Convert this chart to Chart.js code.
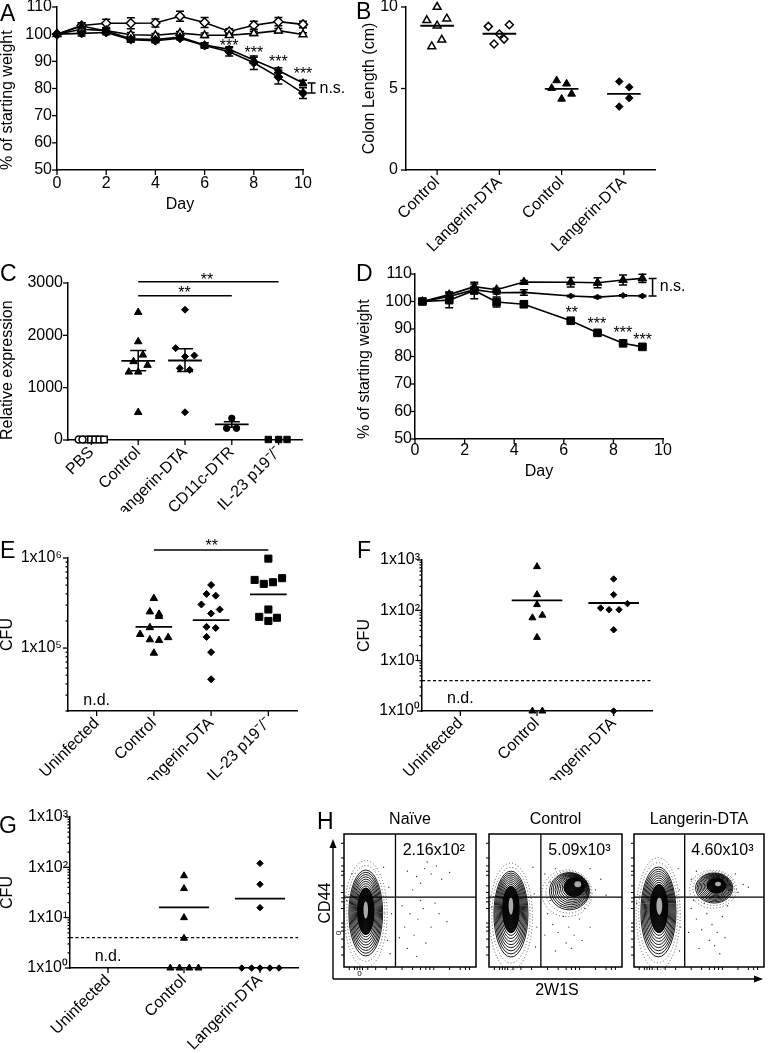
<!DOCTYPE html>
<html lang="en">
<head>
<meta charset="UTF-8">
<title>Langerin-DTA figure</title>
<script src="https://cdn.jsdelivr.net/npm/chart.js"></script>
<style>
  html, body { margin: 0; padding: 0; background: #fff; }
  #fig { position: relative; width: 768px; height: 1053px; overflow: hidden; font-family: "Liberation Sans", Arial, sans-serif; color: #000; }
  #fig canvas, #fig svg, #fig .t, #fig .letter { position: absolute; }
  .letter { font-size: 23px; line-height: 1; }
  .t { font-size: 16px; line-height: 1; white-space: nowrap; }
</style>
</head>
<body>
<div id="fig">
  <canvas id="cA" width="360" height="216" style="left:0;top:0"></canvas>
  <canvas id="cB" width="406" height="252" style="left:362px;top:0"></canvas>
  <canvas id="cC" width="360" height="250" style="left:0;top:262px"></canvas>
  <canvas id="cD" width="411" height="230" style="left:357px;top:262px"></canvas>
  <canvas id="cE" width="360" height="245" style="left:0;top:535px"></canvas>
  <canvas id="cF" width="411" height="245" style="left:357px;top:535px"></canvas>
  <canvas id="cG" width="320" height="253" style="left:0;top:800px"></canvas>
  <canvas id="cH1" width="150" height="170" style="left:330px;top:810px"></canvas>
  <canvas id="cH2" width="142" height="170" style="left:484px;top:810px"></canvas>
  <canvas id="cH3" width="139" height="170" style="left:629px;top:810px"></canvas>

  <svg width="768" height="1053" style="left:0;top:0">
    <path d="M333 979 V847" stroke="#000" stroke-width="1.4" fill="none"/>
    <path d="M333 839 L329.5 848 L336.5 848 Z" fill="#000"/>
    <path d="M333 979 H755" stroke="#000" stroke-width="1.4" fill="none"/>
    <path d="M763 979 L754 975.5 L754 982.5 Z" fill="#000"/>
  </svg>
  <div class="t" style="left:325px;top:903px;transform:translate(-50%,-50%) rotate(-90deg)">CD44</div>
  <div class="t" style="left:557px;top:990px;transform:translate(-50%,-50%)">2W1S</div>

  <div class="letter" style="left:0;top:2px">A</div>
  <div class="letter" style="left:356px;top:0">B</div>
  <div class="letter" style="left:0;top:262px">C</div>
  <div class="letter" style="left:356px;top:262px">D</div>
  <div class="letter" style="left:0;top:539px">E</div>
  <div class="letter" style="left:357px;top:539px">F</div>
  <div class="letter" style="left:-1px;top:814px">G</div>
  <div class="letter" style="left:317px;top:810px">H</div>
</div>
<script>
// ---- A: weight curves ----
const aDays = [0, 1, 2, 3, 4, 5, 6, 7, 8, 9, 10];
const aOpenDia = [100, 103.2, 104.0, 104.0, 104.1, 106.6, 104.3, 101.0, 103.3, 104.6, 103.6];
const aOpenDiaErr = [0, 1.0, 1.5, 2.0, 1.5, 1.8, 1.8, 1.0, 1.5, 1.5, 1.2];
const aOpenTri = [100, 101.8, 101.3, 99.8, 99.6, 100.4, 99.6, 99.6, 100.3, 101.3, 99.9];
const aOpenTriErr = [0, 1.0, 0.8, 0.8, 0.6, 0.6, 0.8, 0.6, 0.8, 0.8, 0.6];
const aFillTri = [100, 103.0, 101.2, 98.3, 98.0, 98.9, 96.0, 94.4, 90.5, 86.6, 82.0];
const aFillTriErr = [0, 1.2, 0.8, 1.0, 0.8, 0.6, 0.8, 1.0, 1.0, 1.0, 1.0];
const aFillDia = [100, 100.3, 100.6, 98.0, 97.6, 98.5, 95.8, 93.5, 89.5, 84.2, 78.3];
const aFillDiaErr = [0, 1.0, 0.8, 1.0, 0.8, 0.6, 1.0, 1.5, 2.5, 2.5, 2.0];
const aStarDays = [7, 8, 9, 10];
const aStarVals = [96.7, 94.1, 90.8, 86.4];
const weightTicks = [50, 60, 70, 80, 90, 100, 110];
const dayTicks = [0, 2, 4, 6, 8, 10];

// ---- B: colon length ----
const bCats = ['Control', 'Langerin-DTA', 'Control', 'Langerin-DTA'];
const bCtrlOpen = [10.0, 9.18, 8.85, 9.28, 7.99, 7.58];
const bCtrlOpenOff = [0, -0.166, 0, 0.155, 0.075, -0.086];
const bLangOpen = [8.81, 8.34, 8.91, 7.73, 8.03];
const bLangOpenOff = [-0.177, 0, 0.16, -0.086, 0.075];
const bCtrlFill = [5.49, 5.29, 5.02, 4.36, 4.67];
const bCtrlFillOff = [-0.08, 0.08, -0.16, 0, 0.16];
const bLangFill = [5.43, 5.08, 4.41, 3.89];
const bLangFillOff = [-0.075, 0.086, 0.086, -0.075];
const bMeans = [8.85, 8.36, 4.98, 4.67];
const bTicks = [0, 5, 10];

// ---- C: relative expression ----
const cCats = ['PBS', 'Control', 'Langerin-DTA', 'CD11c-DTR', 'IL-23 p19⁻/⁻'];
const cPbsCirc = [10, 10];
const cPbsCircOff = [-0.27, -0.19];
const cPbsSq = [10, 10, 10, 10, 10];
const cPbsSqOff = [-0.1, -0.01, 0.08, 0.17, 0.27];
const cCtrl = [2440, 1880, 1625, 1500, 1430, 1300, 1300, 530];
const cCtrlOff = [0, 0, 0.1, -0.1, 0.2, -0.2, 0, 0];
const cLang = [2490, 1755, 1615, 1595, 1372, 1340, 530];
const cLangOff = [0, -0.2, 0.2, 0, -0.11, 0.1, 0];
const cCd11c = [415, 223, 223];
const cCd11cOff = [0, -0.11, 0.1];
const cIl23 = [10, 10, 10];
const cIl23Off = [-0.22, 0, 0.18];
const cMeanCats = [1, 2, 3];
const cMeans = [1512, 1519, 300];
const cSemLo = [1321, 1308, 242];
const cSemHi = [1710, 1742, 351];
const cTicks = [0, 1000, 2000, 3000];

// ---- D: weight curves ----
const dDays = [0.3, 1.38, 2.39, 3.29, 4.39, 6.28, 7.36, 8.39, 9.17];
const dTri = [100, 102.5, 105.4, 104.3, 107.1, 107.0, 106.8, 107.8, 108.4];
const dTriErr = [0, 1, 1, 0.5, 0.5, 1.7, 1.8, 1.8, 1.5];
const dDia = [100, 101.8, 104.3, 103.2, 103.3, 102.0, 101.6, 102.2, 102.0];
const dDiaErr = [0, 1, 1, 0.5, 1, 0.3, 0.3, 0.3, 0.3];
const dSq = [100, 100.5, 104.0, 99.8, 99.0, 93.0, 88.6, 84.8, 83.5];
const dSqErr = [0, 2.8, 3, 1.8, 1, 0.5, 0.5, 0.5, 0.5];
const dStarDays = [6.32, 7.33, 8.38, 9.18];
const dStarVals = [96.9, 92.9, 89.7, 87.1];
const dStarText = ['**', '***', '***', '***'];

// ---- E: CFU ----
const eCats = ['Uninfected', 'Control', 'Langerin-DTA', 'IL-23 p19⁻/⁻'];
const eCtrl = [356e3, 253e3, 238e3, 225e3, 169e3, 142e3, 124e3, 122e3, 131e3, 88e3];
const eCtrlOff = [0, -0.07, 0.09, 0.09, -0.07, -0.24, -0.07, 0.09, 0.25, 0];
const eLang = [502e3, 399e3, 382e3, 305e3, 268e3, 242e3, 172e3, 167e3, 133e3, 90e3, 45e3];
const eLangOff = [0, -0.08, 0.08, -0.17, 0.15, 0, -0.08, 0.08, -0.08, 0, 0];
const eIl23 = [984e3, 571e3, 516e3, 538e3, 597e3, 268e3, 222e3, 217e3, 200e3];
const eIl23Off = [0, -0.24, -0.08, 0.08, 0.24, 0, -0.16, 0.15, 0];
const eMeanCats = [1, 2, 3];
const eMeans = [172e3, 204e3, 395e3];
const eTicks = [1e5, 1e6];
const eTickLabels = ['1x10⁵', '1x10⁶'];

// ---- F / G: CFU ----
const fgCats = ['Uninfected', 'Control', 'Langerin-DTA'];
const fCtrl = [738, 205, 130, 71, 80, 29, 1, 1];
const fCtrlOff = [0, 0, 0, -0.06, 0.07, 0, -0.06, 0.07];
const fLang = [420, 205, 136, 111, 103, 103, 41, 1];
const fLangOff = [0, 0, 0.18, -0.17, -0.06, 0.07, 0, 0];
const fMeans = [158, 140];
const gCtrl = [68, 38, 10, 3.9, 1, 1, 1, 1];
const gCtrlOff = [0, 0, 0, 0, -0.18, -0.06, 0.07, 0.19];
const gLang = [120, 46, 15.8, 1, 1, 1, 1, 1];
const gLangOff = [0, 0, 0, -0.24, -0.11, 0, 0.13, 0.25];
const gMeans = [16, 24];
const fgMeanCats = [1, 2];
const detectLimit = 4;
const fgTicks = [1, 10, 100, 1000];
const fgTickLabels = ['1x10⁰', '1x10¹', '1x10²', '1x10³'];

// ---- H: flow plots (data units 0-100 in each box) ----
const hTitles = ['Naïve', 'Control', 'Langerin-DTA'];
const hCounts = ['2.16x10²', '5.09x10³', '4.60x10³'];
const gateX = 39, gateY = 52.6;
const hTicksX = [4, 8, 10, 12, 14, 18, 24, 32, 44, 52, 58, 62, 65, 68, 80, 88, 92, 95];
const hTicksY = [9, 15, 21, 27, 30, 33, 44, 49, 52, 56, 61, 69, 72, 76, 82, 93];
const hPops = [
  [{outer: [16.5, 40.6, 12.8, 32.3], inner: [16.5, 43, 1.5, 6]}],
  [{outer: [16.5, 39.8, 12.8, 32.3], inner: [16.5, 46, 1.5, 6]},
   {outer: [60.5, 57, 15, 14], inner: [66.9, 62.4, 2.3, 2]}],
  [{outer: [18.8, 41.4, 13.5, 33.8], inner: [19.5, 46, 2, 6]},
   {outer: [61.7, 59.4, 14.3, 11.3], inner: [64.7, 62.4, 2, 1.5]}]
];
const hDots = [
  [[48,72],[55,68],[61,74],[66,70],[70,76],[58,63],[74,66],[52,58],[80,71],[63,79],[44,46],[50,40],[46,30],[56,36],[60,44],[53,24],[66,30],[72,40],[62,18],[48,14],[58,50],[69,48],[78,34],[42,22],[55,8],[34,60],[36,40],[33,20],[2,50],[4,30],[30,75],[6,70],[35,10]],
  [[44,40],[48,32],[52,26],[56,38],[60,30],[64,24],[58,18],[50,12],[68,36],[72,44],[46,50],[54,46],[62,14],[70,20],[76,30],[42,24],[42,70],[46,64],[80,58],[84,66],[76,74],[50,74],[88,54],[34,55],[36,30],[33,75],[2,45],[35,15]],
  [[44,44],[48,36],[52,28],[56,40],[60,32],[64,26],[58,20],[50,14],[68,38],[72,46],[46,50],[54,48],[62,16],[70,22],[42,26],[66,10],[44,66],[48,72],[80,56],[84,62],[78,70],[52,52],[88,60],[35,58],[36,30],[34,74],[2,48],[35,12]]
];

const FONT = '"Liberation Sans", Arial, Helvetica, sans-serif';
const FS = 16;
Chart.defaults.font.family = FONT;
Chart.defaults.font.size = FS;
Chart.defaults.color = '#000';

const extrasFor = {};

// error bars, contours, tick marks, annotations
const extras = {
  id: 'extras',
  beforeDatasetsDraw(chart) {
    const o = extrasFor[chart.canvas.id];
    if (!o) return;
    const ctx = chart.ctx, xs = chart.scales.x, ys = chart.scales.y;
    const X = v => xs.getPixelForValue(v), Y = v => ys.getPixelForValue(v);
    ctx.save();
    (o.contours || []).forEach(p => {
      const path = t => {
        const cx = p.inner[0] + (p.outer[0] - p.inner[0]) * t;
        const cy = p.inner[1] + (p.outer[1] - p.inner[1]) * t;
        const rx = p.inner[2] + (p.outer[2] - p.inner[2]) * t;
        const ry = p.inner[3] + (p.outer[3] - p.inner[3]) * t;
        const px = X(cx), py = Y(cy);
        ctx.beginPath();
        ctx.ellipse(px, py, Math.abs(X(cx + rx) - px), Math.abs(Y(cy + ry) - py), 0, 0, 2 * Math.PI);
      };
      ctx.setLineDash([1, 2.2]);
      ctx.lineWidth = 1;
      ctx.strokeStyle = '#555';
      [1.14, 1.3].forEach(t => { path(t); ctx.stroke(); });
      ctx.setLineDash([]);
      ctx.fillStyle = '#151515';
      path(0.45); ctx.fill();
      ctx.strokeStyle = '#000';
      ctx.lineWidth = 0.9;
      for (let k = 0; k < 14; k++) { path(1 - k / 14); ctx.stroke(); }
      ctx.fillStyle = '#aaa';
      path(0.02); ctx.fill();
    });
    ctx.strokeStyle = '#000';
    ctx.lineWidth = 1.5;
    (o.bars || []).forEach(b => {
      b.x.forEach((xv, i) => {
        if (!(b.hi[i] > b.lo[i])) return;
        const px = X(xv), p1 = Y(b.lo[i]), p2 = Y(b.hi[i]);
        ctx.beginPath();
        ctx.moveTo(px, p1); ctx.lineTo(px, p2);
        ctx.moveTo(px - b.cap, p1); ctx.lineTo(px + b.cap, p1);
        ctx.moveTo(px - b.cap, p2); ctx.lineTo(px + b.cap, p2);
        ctx.stroke();
      });
    });
    ctx.restore();
  },
  afterDraw(chart) {
    const o = extrasFor[chart.canvas.id];
    if (!o) return;
    const ctx = chart.ctx, xs = chart.scales.x, ys = chart.scales.y;
    const X = v => xs.getPixelForValue(v), Y = v => ys.getPixelForValue(v);
    const a = chart.chartArea;
    ctx.save();
    ctx.strokeStyle = '#000';
    ctx.fillStyle = '#000';
    ctx.lineWidth = 1.3;
    if (o.tickLen) {
      [xs, ys].forEach(s => {
        s.ticks.forEach(t => {
          const L = t.major === false ? 2.5 : o.tickLen;
          const p = s.getPixelForValue(t.value);
          ctx.beginPath();
          if (s.isHorizontal()) { ctx.moveTo(p, s.top); ctx.lineTo(p, s.top + L); }
          else { ctx.moveTo(s.right - L, p); ctx.lineTo(s.right, p); }
          ctx.stroke();
        });
      });
    }
    if (o.frame) {
      ctx.lineWidth = 1.5;
      ctx.strokeRect(a.left, a.top, a.right - a.left, a.bottom - a.top);
      ctx.lineWidth = 1;
      hTicksX.forEach(v => { ctx.beginPath(); ctx.moveTo(X(v), a.bottom); ctx.lineTo(X(v), a.bottom + 3); ctx.stroke(); });
      hTicksY.forEach(v => { ctx.beginPath(); ctx.moveTo(a.left - 3, Y(v)); ctx.lineTo(a.left, Y(v)); ctx.stroke(); });
    }
    ctx.lineWidth = 1.5;
    (o.segs || []).forEach(s => {
      ctx.beginPath(); ctx.moveTo(X(s[0]), Y(s[1])); ctx.lineTo(X(s[2]), Y(s[3])); ctx.stroke();
    });
    (o.texts || []).forEach(t => {
      ctx.save();
      ctx.font = (t.size || FS) + 'px ' + FONT;
      ctx.textAlign = t.align || 'center';
      ctx.textBaseline = 'middle';
      ctx.translate(X(t.x) + (t.dx || 0), Y(t.y) + (t.dy || 0));
      if (t.rot) ctx.rotate(t.rot);
      ctx.fillText(t.text, 0, 0);
      ctx.restore();
    });
    ctx.restore();
  }
};
Chart.register(extras);

function pts(xv, yv) { return yv.map((v, i) => ({x: xv[i], y: v})); }
function catPts(c, offs, vals) { return vals.map((v, i) => ({x: c + offs[i], y: v})); }
function marks(data, style, r, filled, more) {
  return Object.assign({
    data, pointStyle: style, pointRadius: r, pointBorderWidth: filled ? 1 : 1.5,
    pointBorderColor: '#000', pointBackgroundColor: filled ? '#000' : '#fff',
    showLine: false, clip: false
  }, more || {});
}
function series(data, style, r, filled) {
  return marks(data, style, r, filled, {showLine: true, borderColor: '#000', borderWidth: 1.6});
}
function hLine(x1, x2, y, w, dash) {
  return {data: [{x: x1, y}, {x: x2, y}], showLine: true, pointRadius: 0, borderColor: '#000',
    borderWidth: w || 1.8, borderDash: dash || [], clip: false};
}
function errBars(xv, v, e, cap) {
  return {x: xv, lo: v.map((y, i) => y - e[i]), hi: v.map((y, i) => y + e[i]), cap};
}
function logMinor(min, max) {
  const out = [];
  for (let e = Math.floor(Math.log10(min)); e < Math.log10(max); e++)
    for (let k = 2; k <= 9; k++) { const v = k * Math.pow(10, e); if (v >= min && v <= max) out.push(v); }
  return out;
}
function axis(o) {
  const isX = o.pos === 'x';
  return {
    type: o.type || 'linear', min: o.min, max: o.max, position: isX ? 'bottom' : 'left',
    grid: {display: false, drawTicks: false, tickLength: 0},
    border: {display: true, color: '#000', width: 1.5},
    title: o.title ? {display: true, text: o.title, align: o.titleAlign || 'center',
      padding: {top: 0, bottom: o.titlePad || 0}, font: {size: FS, lineHeight: 1}} : {display: false},
    ticks: {
      autoSkip: false, padding: o.pad, maxRotation: o.rot || 0, minRotation: o.rot || 0, font: {size: FS},
      callback: v => { const i = o.ticks.indexOf(v); return i < 0 ? '' : (o.labels ? o.labels[i] : String(v)); }
    },
    afterBuildTicks: s => {
      s.ticks = o.ticks.map(v => ({value: v, major: true})).concat((o.minor || []).map(v => ({value: v, major: false})));
    },
    afterFit: s => {
      if (isX) s.height = o.size; else s.width = o.size;
      s.paddingTop = s.paddingBottom = s.paddingLeft = s.paddingRight = 0;
    }
  };
}
function makeChart(id, datasets, scales, padding) {
  return new Chart(document.getElementById(id), {
    type: 'scatter',
    data: {datasets},
    options: {
      responsive: false, animation: false, events: [],
      layout: {padding},
      plugins: {legend: {display: false}, tooltip: {enabled: false}},
      scales
    }
  });
}
const catIdx = cats => cats.map((c, i) => i);

// ---------- A ----------
extrasFor.cA = {
  tickLen: 5,
  bars: [errBars(aDays, aOpenDia, aOpenDiaErr, 4), errBars(aDays, aOpenTri, aOpenTriErr, 4),
         errBars(aDays, aFillTri, aFillTriErr, 4), errBars(aDays, aFillDia, aFillDiaErr, 4),
         {x: [10.35], lo: [78.3], hi: [82.0], cap: 4}],
  texts: aStarDays.map((d, i) => ({x: d, y: aStarVals[i], text: '***', dy: 3.5}))
    .concat([{x: 10.67, y: 80.1, text: 'n.s.', align: 'left'}])
};
makeChart('cA', [
  series(pts(aDays, aFillDia), 'rectRot', 4.5, true),
  series(pts(aDays, aFillTri), 'triangle', 4.5, true),
  series(pts(aDays, aOpenTri), 'triangle', 4.5, false),
  series(pts(aDays, aOpenDia), 'rectRot', 4.5, false)
], {
  x: axis({pos: 'x', min: 0, max: 10, ticks: dayTicks, size: 46, pad: 4, title: 'Day', titlePad: 3}),
  y: axis({pos: 'y', min: 50, max: 110, ticks: weightTicks, size: 57, pad: 5, title: '% of starting weight', titleAlign: 'start'})
}, {top: 7, right: 57, left: 0, bottom: 0});

// ---------- B ----------
extrasFor.cB = {tickLen: 5};
makeChart('cB', [
  ...bMeans.map((m, i) => hLine(i - 0.27, i + 0.27, m, 1.8)),
  marks(catPts(0, bCtrlOpenOff, bCtrlOpen), 'triangle', 4.5, false),
  marks(catPts(1, bLangOpenOff, bLangOpen), 'rectRot', 4, false),
  marks(catPts(2, bCtrlFillOff, bCtrlFill), 'triangle', 4.5, true),
  marks(catPts(3, bLangFillOff, bLangFill), 'rectRot', 3.8, true)
], {
  x: axis({pos: 'x', min: -0.5, max: 3.5, ticks: catIdx(bCats), labels: bCats, size: 82, pad: 3, rot: 45}),
  y: axis({pos: 'y', min: 0, max: 10, ticks: bTicks, size: 44, pad: 8, title: 'Colon Length (cm)'})
}, {top: 7, right: 113, left: 0, bottom: 0});

// ---------- C ----------
extrasFor.cC = {
  tickLen: 5,
  bars: [{x: cMeanCats, lo: cSemLo, hi: cSemHi, cap: 8}],
  segs: [[1, 3025, 4, 3025], [1, 2757, 3, 2757]],
  texts: [{x: 2.47, y: 3121, text: '**', dy: 3.5}, {x: 1.99, y: 2866, text: '**', dy: 3.5}]
};
makeChart('cC', [
  ...cMeans.map((m, i) => hLine(cMeanCats[i] - 0.36, cMeanCats[i] + 0.36, m, 1.8)),
  marks(catPts(0, cPbsCircOff, cPbsCirc), 'circle', 3.5, false),
  marks(catPts(0, cPbsSqOff, cPbsSq), 'rect', 4.5, false),
  marks(catPts(1, cCtrlOff, cCtrl), 'triangle', 4.3, true),
  marks(catPts(2, cLangOff, cLang), 'rectRot', 3.5, true),
  marks(catPts(3, cCd11cOff, cCd11c), 'circle', 3.2, true),
  marks(catPts(4, cIl23Off, cIl23), 'rect', 4.5, true)
], {
  x: axis({pos: 'x', min: -0.5, max: 4.5, ticks: catIdx(cCats), labels: cCats, size: 72, pad: 3, rot: 45}),
  y: axis({pos: 'y', min: 0, max: 3000, ticks: cTicks, size: 68, pad: 5, title: 'Relative expression', titleAlign: 'start'})
}, {top: 21, right: 58, left: 0, bottom: 0});

// ---------- D ----------
extrasFor.cD = {
  tickLen: 5,
  bars: [errBars(dDays, dTri, dTriErr, 4), errBars(dDays, dDia, dDiaErr, 4), errBars(dDays, dSq, dSqErr, 4),
         {x: [9.58], lo: [102.0], hi: [108.4], cap: 4}],
  texts: dStarDays.map((d, i) => ({x: d, y: dStarVals[i], text: dStarText[i], dy: 3.5}))
    .concat([{x: 9.87, y: 105.3, text: 'n.s.', align: 'left'}])
};
makeChart('cD', [
  series(pts(dDays, dSq), 'rect', 5.4, true),
  series(pts(dDays, dDia), 'rectRot', 3, true),
  series(pts(dDays, dTri), 'triangle', 5, true)
], {
  x: axis({pos: 'x', min: 0, max: 10, ticks: dayTicks, size: 53, pad: 2, title: 'Day', titlePad: 12.5}),
  y: axis({pos: 'y', min: 50, max: 110, ticks: weightTicks, size: 58, pad: 3, title: '% of starting weight', titleAlign: 'start'})
}, {top: 12, right: 105, left: 0, bottom: 0});

// ---------- E ----------
extrasFor.cE = {
  tickLen: 5,
  segs: [[1, 1.229e6, 3, 1.229e6]],
  texts: [{x: 2.01, y: 1.45e6, text: '**', dy: 3.5}, {x: 0, y: 26200, text: 'n.d.'}]
};
makeChart('cE', [
  ...eMeans.map((m, i) => hLine(eMeanCats[i] - 0.32, eMeanCats[i] + 0.32, m, 1.8)),
  marks(catPts(1, eCtrlOff, eCtrl), 'triangle', 4.3, true),
  marks(catPts(2, eLangOff, eLang), 'rectRot', 3.5, true),
  marks(catPts(3, eIl23Off, eIl23), 'rect', 5, true)
], {
  x: axis({pos: 'x', min: -0.5, max: 3.5, ticks: catIdx(eCats), labels: eCats, size: 69, pad: 3, rot: 45}),
  y: axis({pos: 'y', type: 'logarithmic', min: 2e4, max: 1e6, ticks: eTicks, labels: eTickLabels,
           minor: logMinor(2e4, 1e6), size: 68, pad: 6, title: 'CFU'})
}, {top: 23, right: 63, left: 0, bottom: 0});

// ---------- F ----------
extrasFor.cF = {tickLen: 5, texts: [{x: 0, y: 1.8, text: 'n.d.'}]};
makeChart('cF', [
  ...fMeans.map((m, i) => hLine(fgMeanCats[i] - 0.33, fgMeanCats[i] + 0.33, m, 1.8)),
  hLine(-0.5, 2.5, detectLimit, 1.3, [3, 2.5]),
  marks(catPts(1, fCtrlOff, fCtrl), 'triangle', 4, true),
  marks(catPts(2, fLangOff, fLang), 'rectRot', 3.2, true)
], {
  x: axis({pos: 'x', min: -0.5, max: 2.5, ticks: catIdx(fgCats), labels: fgCats, size: 69, pad: 3, rot: 45}),
  y: axis({pos: 'y', type: 'logarithmic', min: 1, max: 1000, ticks: fgTicks, labels: fgTickLabels,
           minor: logMinor(1, 1000), size: 65, pad: 2, title: 'CFU'})
}, {top: 25, right: 116, left: 0, bottom: 0});

// ---------- G ----------
extrasFor.cG = {tickLen: 5, texts: [{x: 0, y: 1.65, text: 'n.d.'}]};
makeChart('cG', [
  ...gMeans.map((m, i) => hLine(fgMeanCats[i] - 0.33, fgMeanCats[i] + 0.33, m, 1.8)),
  hLine(-0.5, 2.5, detectLimit, 1.3, [3, 2.5]),
  marks(catPts(1, gCtrlOff, gCtrl), 'triangle', 4, true),
  marks(catPts(2, gLangOff, gLang), 'rectRot', 3.2, true)
], {
  x: axis({pos: 'x', min: -0.5, max: 2.5, ticks: catIdx(fgCats), labels: fgCats, size: 85, pad: 3, rot: 45}),
  y: axis({pos: 'y', type: 'logarithmic', min: 1, max: 1000, ticks: fgTicks, labels: fgTickLabels,
           minor: logMinor(1, 1000), size: 70, pad: 2, title: 'CFU'})
}, {top: 17, right: 22, left: 0, bottom: 0});

// ---------- H ----------
const hPads = [
  {left: 14, top: 24, right: 3, bottom: 13},
  {left: 5, top: 24, right: 4, bottom: 13},
  {left: 5, top: 24, right: 1, bottom: 13}
];
['cH1', 'cH2', 'cH3'].forEach((id, k) => {
  const texts = [{x: 50, y: 110.5, text: hTitles[k]}, {x: 68, y: 87.5, text: hCounts[k]}];
  if (k === 0) {
    texts.push({x: 11.8, y: -5.3, text: '0', size: 8});
    texts.push({x: -4, y: 25.6, text: '0', size: 8, rot: -Math.PI / 2});
  }
  extrasFor[id] = {frame: true, contours: hPops[k], texts};
  makeChart(id, [
    {data: [{x: gateX, y: 0}, {x: gateX, y: 100}], showLine: true, pointRadius: 0, borderColor: '#000', borderWidth: 1.3},
    {data: [{x: 0, y: gateY}, {x: 100, y: gateY}], showLine: true, pointRadius: 0, borderColor: '#000', borderWidth: 1.3},
    marks(hDots[k].map(p => ({x: p[0], y: p[1]})), 'circle', 0.7, true, {pointBorderWidth: 0, pointBackgroundColor: '#333'})
  ], {
    x: {type: 'linear', min: 0, max: 100, display: false},
    y: {type: 'linear', min: 0, max: 100, display: false}
  }, hPads[k]);
});
</script>
</body>
</html>
